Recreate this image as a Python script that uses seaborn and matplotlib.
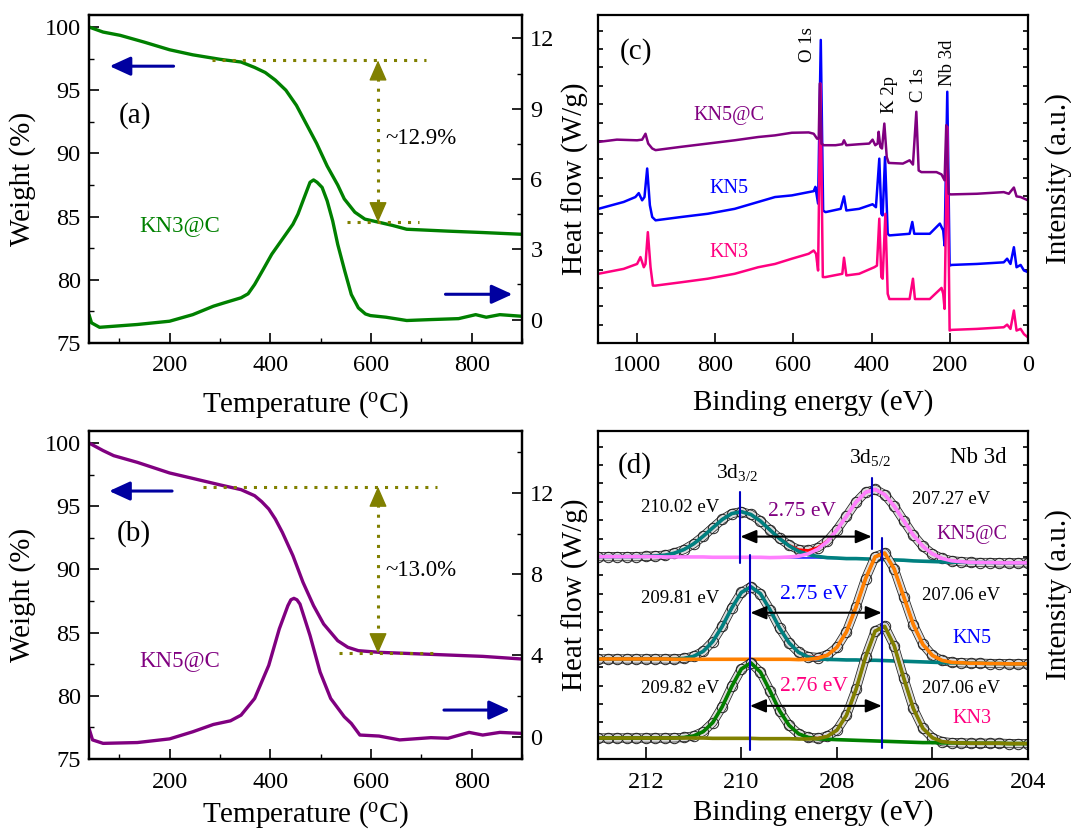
import numpy as np
import matplotlib
matplotlib.use('Agg')
import matplotlib.pyplot as plt
import matplotlib.patheffects as pe
from matplotlib.ticker import MultipleLocator
import seaborn as sns

# ---------------- data : panel (a) KN3@C ----------------
tga_T_a = [40, 68, 102, 150, 200, 246, 301, 342, 369, 390, 410, 431, 452, 472, 492, 513, 534, 547, 568, 588, 616, 643, 671, 753, 822, 900]
tga_W_a = [100.0, 99.6, 99.34, 98.8, 98.2, 97.8, 97.44, 97.23, 96.8, 96.4, 95.8, 95.0, 93.8, 92.3, 90.8, 89.0, 87.5, 86.4, 85.35, 84.8, 84.55, 84.3, 84.0, 83.85, 83.74, 83.6]
dsc_T_a = [40, 45, 61, 136, 200, 246, 287, 308, 342, 356, 369, 386, 403, 424, 445, 455, 465, 479, 486, 493, 503, 513, 524, 534, 548, 561, 575, 589, 599, 630, 671, 719, 774, 808, 829, 856, 900]
dsc_H_a = [0.21, -0.14, -0.33, -0.21, -0.07, 0.21, 0.57, 0.71, 0.93, 1.1, 1.5, 2.14, 2.79, 3.43, 4.07, 4.5, 5.07, 5.86, 5.96, 5.86, 5.64, 5.07, 4.21, 3.21, 2.07, 1.07, 0.5, 0.24, 0.17, 0.1, -0.04, 0.0, 0.04, 0.21, 0.1, 0.21, 0.14]
levels_a = [97.36, 84.55]
loss_a = 12.9

# ---------------- data : panel (b) KN5@C ----------------
tga_T_b = [40, 68, 89, 136, 200, 246, 301, 342, 369, 383, 397, 410, 424, 445, 465, 486, 506, 520, 534, 554, 575, 616, 719, 822, 900]
tga_W_b = [100.0, 99.4, 99.0, 98.47, 97.63, 97.2, 96.68, 96.31, 95.83, 95.36, 94.78, 93.99, 92.93, 91.09, 88.98, 87.13, 85.68, 85.02, 84.36, 83.84, 83.57, 83.44, 83.28, 83.12, 82.91]
dsc_T_b = [40, 47, 68, 136, 200, 246, 287, 321, 342, 369, 397, 418, 435, 441, 447, 453, 459, 479, 499, 520, 547, 561, 578, 616, 657, 719, 753, 795, 822, 856, 900]
dsc_H_b = [0.41, -0.16, -0.33, -0.29, -0.11, 0.24, 0.6, 0.78, 1.06, 1.88, 3.51, 5.31, 6.45, 6.74, 6.81, 6.74, 6.53, 4.98, 3.18, 1.88, 0.98, 0.65, 0.08, 0.03, -0.16, -0.05, -0.08, 0.21, 0.08, 0.21, 0.16]
levels_b = [96.55, 83.36]
loss_b = 13.0

# ---------------- data : panel (c) XPS survey ----------------
be_kn5c = [1099, 1051.6, 1000, 987.1, 978.5, 971.6, 961.3, 952.7, 888.1, 819.3, 750.4, 690.2, 647.2, 604.1, 561.1, 548.2, 539.6, 535.3, 532.7, 528.4, 522.4, 492.3, 475.0, 470.7, 464.7, 432.0, 406.2, 397.6, 390.7, 384.7, 382.1, 377.8, 373.5, 367.5, 361.4, 356.3, 320.1, 302.9, 294.3, 285.7, 279.7, 272.8, 234.1, 221.2, 213.4, 209.1, 203.0, 197.9, 130.8, 62.0, 49.1, 36.1, 29.3, 18.9, 0]
int_kn5c = [61.3, 62.0, 61.8, 62.0, 63.8, 60.8, 59.3, 58.8, 59.8, 60.8, 61.8, 62.8, 63.3, 64.1, 64.2, 63.8, 62.3, 62.3, 79.1, 60.8, 60.3, 60.3, 60.6, 61.8, 60.3, 60.6, 60.8, 62.0, 60.3, 60.8, 64.4, 59.8, 59.3, 66.9, 56.7, 54.9, 54.7, 55.7, 54.4, 70.5, 52.6, 52.1, 52.1, 51.4, 49.6, 66.4, 45.5, 45.3, 45.5, 46.0, 45.5, 47.4, 44.7, 44.5, 43.5]
be_kn5 = [1099, 1034.4, 1004.3, 995.7, 987.1, 981.1, 974.2, 967.3, 961.3, 952.7, 888.1, 819.3, 750.4, 690.2, 647.2, 604.1, 561.1, 548.2, 543.9, 537.0, 530.1, 524.1, 518.1, 479.3, 470.7, 464.7, 432.0, 397.6, 389.0, 380.4, 375.2, 371.8, 365.7, 358.9, 354.6, 302.9, 296.0, 290.9, 251.3, 225.5, 216.9, 213.4, 206.5, 200.5, 195.4, 130.8, 62.0, 53.4, 44.8, 36.1, 29.3, 18.9, 10.3, 0]
int_kn5 = [40.9, 43.0, 44.5, 45.7, 43.5, 44.5, 53.2, 42.0, 38.4, 37.4, 38.4, 39.4, 40.9, 43.0, 44.5, 45.0, 46.0, 46.3, 47.6, 42.5, 92.4, 40.4, 39.9, 40.9, 44.7, 40.4, 40.9, 42.3, 41.4, 56.2, 39.4, 38.9, 56.7, 33.3, 32.8, 33.3, 36.9, 33.3, 33.3, 36.4, 34.3, 29.7, 76.6, 23.6, 23.8, 24.1, 24.6, 25.7, 24.1, 29.2, 23.1, 23.8, 22.1, 21.6]
be_kn3 = [1099, 1034.4, 1000, 991.4, 982.8, 978.5, 972.5, 965.6, 959.6, 952.7, 888.1, 819.3, 750.4, 690.2, 647.2, 604.1, 561.1, 548.2, 542.2, 537.0, 530.9, 524.9, 518.1, 475.0, 470.7, 464.7, 432.0, 393.3, 386.4, 380.4, 375.2, 371.8, 364.9, 358.9, 354.6, 302.9, 294.3, 289.2, 251.3, 221.2, 216.9, 213.4, 206.5, 200.5, 195.4, 130.8, 62.0, 53.4, 44.8, 36.1, 29.3, 18.9, 10.3, 0]
int_kn3 = [21.1, 22.6, 24.1, 26.2, 23.1, 24.1, 33.8, 23.1, 17.5, 17.5, 18.5, 19.6, 21.1, 23.1, 24.1, 25.7, 27.2, 28.2, 27.2, 22.1, 79.1, 20.1, 20.1, 21.1, 26.0, 20.6, 21.1, 23.1, 23.6, 37.9, 20.1, 19.6, 39.4, 15.0, 13.4, 13.4, 19.6, 13.4, 13.4, 16.8, 15.0, 10.4, 65.9, 3.8, 4.0, 4.3, 4.8, 5.6, 4.3, 9.9, 3.8, 4.3, 2.7, 1.7]
survey_labels = ['KN5@C', 'KN5', 'KN3']
peak_names = ['O 1s', 'K 2p', 'C 1s', 'Nb 3d']
peak_be = [565, 355, 281, 206]

# ---------------- data : panel (d) Nb 3d ----------------
be_d = np.round(np.arange(213.0, 203.95, -0.2), 1)   # 46 energies, 0.2 eV step
bg_kn5c = [61.7, 61.7, 61.7, 61.7, 61.7, 61.7, 61.7, 61.6, 61.6, 61.6, 61.6, 61.6, 61.5, 61.5, 61.5, 61.5, 61.5, 61.5, 61.4, 61.4, 61.4, 61.3, 61.3, 61.3, 61.2, 61.2, 61.1, 61.1, 61.0, 60.9, 60.8, 60.7, 60.6, 60.4, 60.3, 60.2, 60.1, 60.0, 60.0, 59.9, 59.9, 59.9, 59.8, 59.8, 59.8, 59.8]
a_kn5c = [0.0] * 5 + [0.08, 0.23, 0.54, 1.17, 2.27, 3.99, 6.30, 8.97, 11.52, 13.33, 13.90, 13.05, 11.05, 8.43, 5.80, 3.59, 2.01, 1.01, 0.46, 0.19, 0.07] + [0.0] * 20
b_kn5c = [0.0] * 19 + [0.06, 0.19, 0.52, 1.26, 2.69, 5.11, 8.62, 12.92, 17.19, 20.30, 21.30, 19.82, 16.39, 12.03, 7.84, 4.54, 2.33, 1.06, 0.43, 0.16, 0.05] + [0.0] * 6
bg_kn5 = [30.5, 30.5, 30.5, 30.5, 30.5, 30.5, 30.5, 30.5, 30.4, 30.4, 30.4, 30.4, 30.4, 30.4, 30.4, 30.4, 30.4, 30.4, 30.4, 30.4, 30.4, 30.3, 30.3, 30.3, 30.3, 30.3, 30.2, 30.2, 30.1, 30.1, 30.0, 29.9, 29.8, 29.7, 29.6, 29.5, 29.4, 29.3, 29.3, 29.2, 29.2, 29.1, 29.1, 29.0, 29.0, 29.0]
a_kn5 = [0.0] * 8 + [0.07, 0.28, 0.90, 2.40, 5.38, 10.05, 15.66, 20.37, 22.10, 20.00, 15.11, 9.52, 5.01, 2.20, 0.80, 0.25, 0.06] + [0.0] * 21
b_kn5 = [0.0] * 22 + [0.09, 0.39, 1.34, 3.73, 8.56, 16.11, 24.88, 31.54, 32.80, 28.01, 19.63, 11.29, 5.33, 2.07, 0.66, 0.17, 0.04] + [0.0] * 7
bg_kn3 = [6.4, 6.4, 6.4, 6.4, 6.4, 6.4, 6.4, 6.4, 6.4, 6.4, 6.4, 6.4, 6.3, 6.3, 6.3, 6.3, 6.3, 6.2, 6.2, 6.2, 6.2, 6.1, 6.1, 6.0, 6.0, 5.9, 5.8, 5.7, 5.6, 5.5, 5.4, 5.3, 5.2, 5.1, 5.0, 5.0, 4.9, 4.9, 4.9, 4.8, 4.8, 4.8, 4.8, 4.7, 4.7, 4.7]
a_kn3 = [0.0] * 8 + [0.04, 0.17, 0.63, 1.93, 4.78, 9.65, 15.84, 21.15, 23.00, 20.30, 14.58, 8.52, 4.05, 1.56, 0.49, 0.13, 0.03] + [0.0] * 21
b_kn3 = [0.0] * 23 + [0.22, 0.89, 2.89, 7.50, 15.49, 25.51, 33.49, 35.04, 29.23, 19.43, 10.30, 4.35, 1.47, 0.39, 0.08] + [0.0] * 8
p32 = [210.02, 209.81, 209.82]
p52 = [207.27, 207.06, 207.06]

# ---------------- style ----------------
sns.set_theme(style='ticks')
plt.rcParams['font.family'] = ['Liberation Serif', 'DejaVu Serif']
plt.rcParams.update({
    'mathtext.fontset': 'custom', 'mathtext.rm': 'Liberation Serif',
    'mathtext.it': 'Liberation Serif:italic',
    'xtick.direction': 'in', 'ytick.direction': 'in',
    'axes.edgecolor': 'black', 'xtick.color': 'black', 'ytick.color': 'black',
    'text.color': 'black', 'axes.labelcolor': 'black', 'axes.linewidth': 1.6,
})

GREEN, PURPLE, NAVY, OLIVE = '#008000', '#800080', '#0000A0', '#808000'
BLUE, PINK = '#0000FF', '#FF0080'
TICK = 17.5
LAB = 21

fig = plt.figure(figsize=(10.71, 8.31), dpi=100)
FW, FH = 1071, 831


def box(l, r, t, b):
    return [l / FW, 1 - b / FH, (r - l) / FW, (b - t) / FH]


axA = fig.add_axes(box(89, 522, 15, 343))
axB = fig.add_axes(box(89, 522, 431, 759))
axC = fig.add_axes(box(598, 1028, 15, 343))
axD = fig.add_axes(box(598, 1028, 431, 759))


def style_ticks(ax):
    ax.tick_params(which='major', length=7, width=1.2, labelsize=TICK, pad=6)
    ax.tick_params(which='minor', length=3.5, width=1.0)
    ax.tick_params(axis='x', which='major', pad=9)
    for s in ax.spines.values():
        s.set_linewidth(1.6)


def tga_panel(ax, T, Wt, Td, Hd, color, hlim, hmaj, levels, loss, tag, tag_xy,
              name, name_xy, larrow, rarrow, top_span, bot_span, xv, txt_y, xpad):
    sns.lineplot(x=T, y=Wt, ax=ax, color=color, lw=2.4, legend=False)
    ax.set_xlim(40, 900)
    ax.set_ylim(75, 100.95)
    ax.xaxis.set_major_locator(MultipleLocator(200))
    ax.xaxis.set_minor_locator(MultipleLocator(100))
    ax.yaxis.set_major_locator(MultipleLocator(5))
    ax.yaxis.set_minor_locator(MultipleLocator(2.5))
    ax.tick_params(axis='y', which='both', right=False)
    ax.set_xlabel('Temperature ($^\\mathregular{o}$C)', fontsize=LAB, labelpad=xpad)
    ax.set_ylabel('Weight (%)', fontsize=LAB, labelpad=6)
    style_ticks(ax)
    ax2 = ax.twinx()
    sns.lineplot(x=Td, y=Hd, ax=ax2, color=color, lw=2.4, legend=False)
    ax2.set_ylim(*hlim)
    ax2.yaxis.set_major_locator(MultipleLocator(hmaj))
    ax2.yaxis.set_minor_locator(MultipleLocator(hmaj / 2))
    ax2.set_ylabel('Heat flow (W/g)', fontsize=LAB, labelpad=5)
    style_ticks(ax2)
    dot = dict(color=OLIVE, lw=2.2, ls=(0, (1, 2.3)))
    ax.plot(top_span, [levels[0], levels[0]], **dot)
    ax.plot(bot_span, [levels[1], levels[1]], **dot)
    ax.plot([xv, xv], [levels[0] - 0.6, levels[1] + 0.6], **dot)
    head = dict(arrowstyle='-|>,head_length=0.8,head_width=0.35', color=OLIVE,
                lw=1, mutation_scale=16, shrinkA=0, shrinkB=0)
    ax.annotate('', xy=(xv, levels[0]), xytext=(xv, levels[0] - 1.0), arrowprops=head)
    ax.annotate('', xy=(xv, levels[1]), xytext=(xv, levels[1] + 1.0), arrowprops=head)
    ax.text(xv + 14, txt_y, f'~{loss:.1f}%', fontsize=16.5, ha='left', va='center')
    ax.text(*tag_xy, tag, fontsize=21, ha='left', va='center')
    ax.text(*name_xy, name, fontsize=16.5, ha='left', va='center', color=color)
    arr = dict(arrowstyle='-|>,head_length=0.7,head_width=0.32', color=NAVY,
               lw=2.2, mutation_scale=18, shrinkA=0, shrinkB=0)
    ax.annotate('', xy=(larrow[0], larrow[2]), xytext=(larrow[1], larrow[2]), arrowprops=arr)
    ax2.annotate('', xy=(rarrow[1], rarrow[2]), xytext=(rarrow[0], rarrow[2]), arrowprops=arr)
    return ax2


tga_panel(axA, tga_T_a, tga_W_a, dsc_T_a, dsc_H_a, GREEN, (-1.0, 13.0), 3, levels_a, loss_a,
          '(a)', (100, 93.0), 'KN3@C', (140, 84.3), (81, 208, 96.9), (748, 881, 1.08),
          (284, 710), (552, 696), 614, 91.2, 9)
tga_panel(axB, tga_T_b, tga_W_b, dsc_T_b, dsc_H_b, PURPLE, (-1.1, 15.05), 4, levels_b, loss_b,
          '(b)', (96, 92.8), 'KN5@C', (140, 82.8), (80, 205, 96.2), (745, 876, 1.31),
          (266, 732), (537, 736), 614, 89.9, 5)

# ---------------- panel (c) ----------------
for be, it, col in [(be_kn5, int_kn5, BLUE), (be_kn3, int_kn3, PINK), (be_kn5c, int_kn5c, PURPLE)]:
    sns.lineplot(x=be, y=it, ax=axC, color=col, lw=1.8, legend=False, sort=False)
axC.set_xlim(1100, 0)
axC.set_ylim(0, 100)
axC.xaxis.set_major_locator(MultipleLocator(200))
axC.yaxis.set_major_locator(MultipleLocator(5.6))
axC.set_xlabel('Binding energy (eV)', fontsize=LAB, labelpad=9)
axC.yaxis.set_label_position('right')
axC.set_ylabel('Intensity (a.u.)', fontsize=LAB, labelpad=12)
style_ticks(axC)
axC.tick_params(axis='y', which='major', left=True, right=True, labelleft=False, length=3.5)
axC.text(1002, 88.8, '(c)', fontsize=21, ha='center', va='center')
for lab, y, col in zip(survey_labels, [69.5, 47.0, 27.7], [PURPLE, BLUE, PINK]):
    axC.text(765, y, lab, fontsize=14.5, color=col, ha='center', va='center')
for name, be, yb in zip(peak_names, peak_be, [85.7, 70.0, 73.5, 78.3]):
    axC.text(be, yb, name, fontsize=13.5, rotation=90, ha='center', va='bottom')

# ---------------- panel (d) ----------------
spectra = [
    (bg_kn5c, a_kn5c, b_kn5c, '#008080', '#FF80FF', PURPLE, 'KN5@C'),
    (bg_kn5, a_kn5, b_kn5, '#008080', '#FF8000', BLUE, 'KN5'),
    (bg_kn3, a_kn3, b_kn3, '#008000', '#808000', PINK, 'KN3'),
]
for bg, a, b, ca, cb, ctxt, lab in spectra:
    bg = np.array(bg)
    env = bg + np.array(a) + np.array(b)
    sns.lineplot(x=be_d, y=env, ax=axD, color='#dcdcdc', lw=5.5, legend=False,
                 path_effects=[pe.Stroke(linewidth=6.6, foreground='#202020'), pe.Normal()])
    sns.lineplot(x=be_d, y=env, ax=axD, color='black', lw=0, legend=False,
                 marker='o', markersize=7.5, markerfacecolor='none', markeredgecolor='#202020',
                 markeredgewidth=0.7)
    sns.lineplot(x=be_d, y=bg, ax=axD, color='#3030FF', lw=1.3, legend=False)
    sns.lineplot(x=be_d, y=env, ax=axD, color='#FF0000', lw=2.0, legend=False)
    sns.lineplot(x=be_d, y=bg + np.array(a), ax=axD, color=ca, lw=2.6, legend=False)
    sns.lineplot(x=be_d, y=bg + np.array(b), ax=axD, color=cb, lw=2.6, legend=False)

vl = [(81.5, 59.8, 85.6, 63.9), (62.2, 2.7, 67.3, 3.3), (62.2, 2.7, 67.3, 3.3)]
arrow_y = [67.8, 44.6, 16.2]
txt_y = [(76.8, 75.4, 79.0, 68.3), (49.0, 50.3, 50.0, 36.8), (21.6, 22.0, 21.6, 12.4)]
dx_x = [208.73, 208.48, 208.48]
for i, (bg, a, b, ca, cb, ctxt, lab) in enumerate(spectra):
    if i < 2:
        axD.plot([p32[i], p32[i]], [vl[i][1], vl[i][0]], color='#0000C0', lw=1.5)
        axD.plot([p52[i], p52[i]], [vl[i][3], vl[i][2]], color='#0000C0', lw=1.5)
    axD.annotate('', xy=(p52[i], arrow_y[i]), xytext=(p32[i], arrow_y[i]),
                 arrowprops=dict(arrowstyle='<|-|>,head_length=0.6,head_width=0.25', color='black',
                                 lw=1.5, mutation_scale=16, shrinkA=0, shrinkB=0))
    ty = txt_y[i]
    axD.text(211.28, ty[0], f'{p32[i]:.2f} eV', fontsize=13.5, ha='center', va='center')
    axD.text(dx_x[i], ty[1], f'{p32[i] - p52[i]:.2f} eV', fontsize=15.5, ha='center', va='center', color=ctxt)
    axD.text(205.6 if i == 0 else 205.4, ty[2], f'{p52[i]:.2f} eV', fontsize=13.5, ha='center', va='center')
    axD.text(205.18, ty[3], lab, fontsize=14.5, ha='center', va='center', color=ctxt)

axD.text(212.58, 89.6, '(d)', fontsize=21, ha='left', va='center')
axD.text(210.1, 87.3, '3d$_\\mathregular{3/2}$', fontsize=15.5, ha='center', va='center')
axD.text(207.3, 91.8, '3d$_\\mathregular{5/2}$', fontsize=15.5, ha='center', va='center')
axD.text(205.04, 91.8, 'Nb 3d', fontsize=16.5, ha='center', va='center')
axD.set_xlim(213, 204)
axD.set_ylim(0, 100)
axD.xaxis.set_major_locator(MultipleLocator(2))
axD.yaxis.set_major_locator(MultipleLocator(5.6))
axD.set_xlabel('Binding energy (eV)', fontsize=LAB, labelpad=5)
axD.yaxis.set_label_position('right')
axD.set_ylabel('Intensity (a.u.)', fontsize=LAB, labelpad=12)
style_ticks(axD)
axD.tick_params(axis='y', which='major', left=True, right=True, labelleft=False, length=3.5)
axD.tick_params(axis='x', which='major', length=9)

fig.savefig('out.png', dpi=100)
